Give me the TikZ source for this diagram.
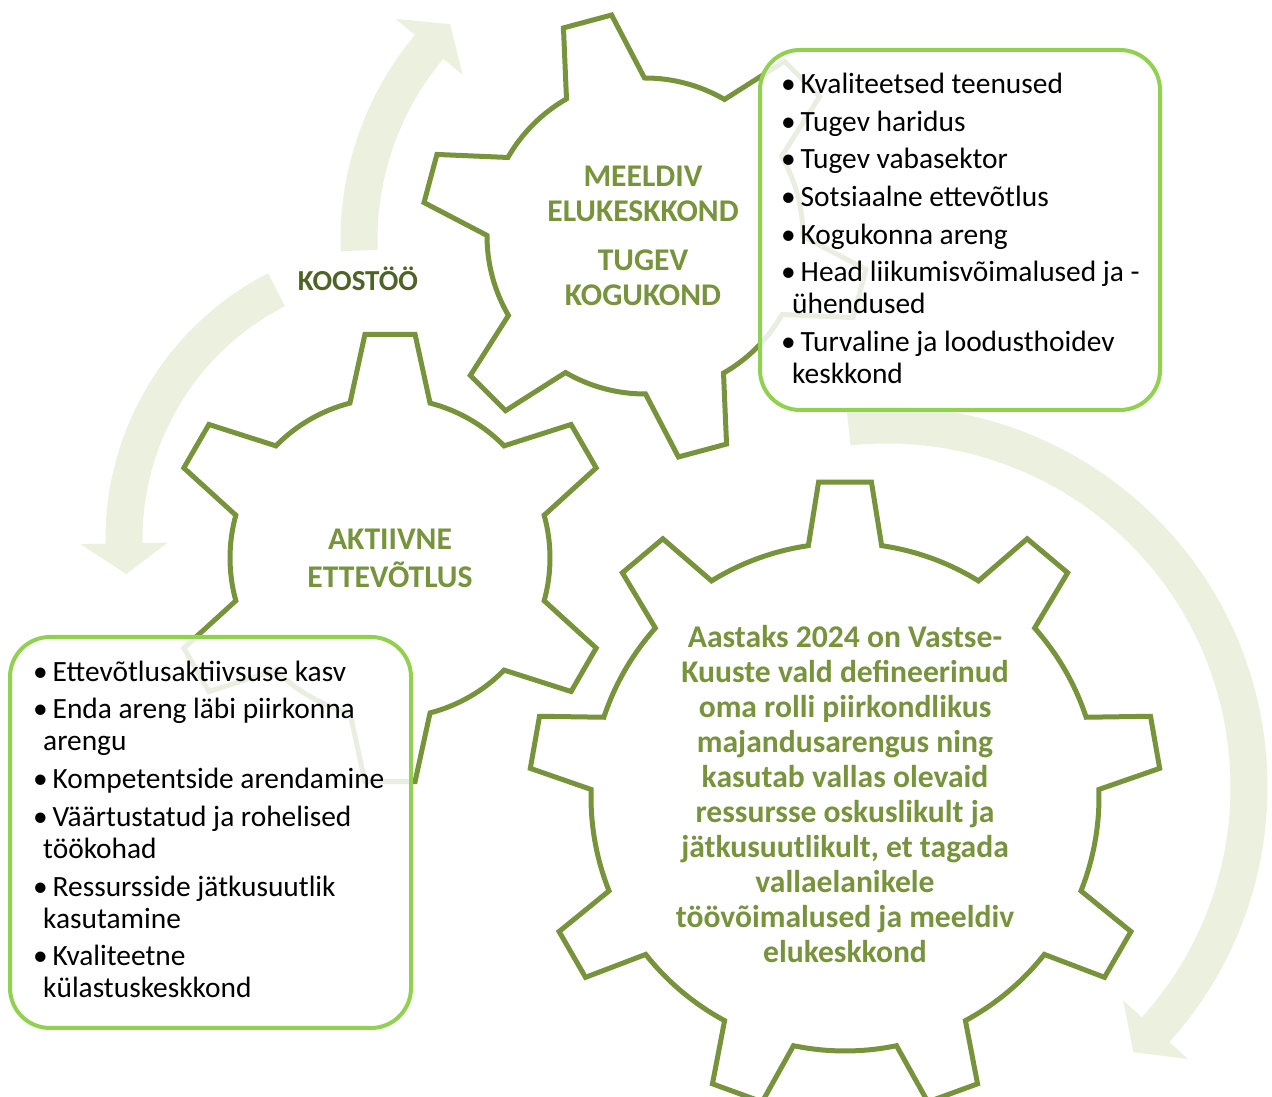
\documentclass[tikz,border=0pt]{standalone}
\usepackage{fontspec}
\setmainfont{Carlito}
\definecolor{gearc}{HTML}{77933C}
\definecolor{darkol}{HTML}{4F6228}
\definecolor{arrowc}{HTML}{EBF1DE}
\definecolor{boxc}{HTML}{92D050}
% cx, cy, rin, rout, N, phase, base half angle, tip half angle
\newcommand{\gearshape}[8]{%
  \filldraw[gearstroke] ({#1+#3*cos(#6-#7)},{#2+#3*sin(#6-#7)})
  \foreach \k in {1,...,#5}{
    -- ({#1+#4*cos(#6+(\k-1)*360/#5-#8)},{#2+#4*sin(#6+(\k-1)*360/#5-#8)})
    -- ({#1+#4*cos(#6+(\k-1)*360/#5+#8)},{#2+#4*sin(#6+(\k-1)*360/#5+#8)})
    -- ({#1+#3*cos(#6+(\k-1)*360/#5+#7)},{#2+#3*sin(#6+(\k-1)*360/#5+#7)})
    arc[start angle={#6+(\k-1)*360/#5+#7}, end angle={#6+\k*360/#5-#7}, radius=#3]
  } -- cycle;}
% cx, cy, R, start angle, head base angle, tip angle
\newcommand{\carrow}[6]{%
  \fill[arrowc] ({#1+(#3+18.5)*cos(#4)},{#2+(#3+18.5)*sin(#4)})
    arc[start angle=#4, end angle=#5, radius={#3+18.5}]
    -- ({#1+(#3+43.75)*cos(#5)},{#2+(#3+43.75)*sin(#5)})
    -- ({#1+#3*cos(#6)},{#2+#3*sin(#6)})
    -- ({#1+(#3-43.75)*cos(#5)},{#2+(#3-43.75)*sin(#5)})
    -- ({#1+(#3-18.5)*cos(#5)},{#2+(#3-18.5)*sin(#5)})
    arc[start angle=#5, end angle=#4, radius={#3-18.5}]
    -- cycle;}
\newcommand{\listfont}{\fontsize{29.4}{32}\selectfont}
\newcommand{\gearfont}{\fontsize{31.6}{35}\selectfont\bfseries}
\newcommand{\bul}{\makebox[19.5pt][l]{•}}
\begin{document}
\begin{tikzpicture}[x=1pt,y=1pt,
  gearstroke/.style={draw=gearc, line width=5pt, fill=white, line join=miter},
  listbox/.style={draw=boxc, line width=4pt, rounded corners=40pt, fill=white, fill opacity=0.85, inner sep=0pt},
  li/.style={anchor=base west, inner sep=0pt, font=\listfont, text=black},
  geartext/.style={align=center, inner sep=0pt, font=\gearfont, text=gearc}]
\useasboundingbox (0,0) rectangle (1272,1097);
\clip (0,0) rectangle (1272,1097);
% curved arrows
\carrow{660}{857}{301}{182}{140.1}{134.2}
\carrow{404}{558}{280}{117.1}{180.9}{187.2}
\carrow{887}{310}{362}{96.1}{-42.1}{-47.1}
% gears
\gearshape{645}{861}{158}{223.5}{6}{45}{14.8}{6.4}
\gearshape{390}{539}{160}{225}{6}{30}{14.5}{6.4}
\gearshape{845}{300}{254}{316}{9}{90}{8.3}{4.8}
% boxes
\node[listbox, minimum width=400pt, minimum height=360pt] (box1) at (960,867) {};
\node[listbox, minimum width=401pt, minimum height=391pt] (box2) at (210.5,264.5) {};
% gear texts
\node[geartext] (g1t) at (643,858) {\strut MEELDIV\\ELUKESKKOND\\[14pt]TUGEV\\KOGUKOND\strut};
\node[geartext] (g2t) at (390,535.5) {\strut AKTIIVNE\\ETTEVÕTLUS\strut};
\node[geartext] (g3t) at (845,298.5) {\strut Aastaks 2024 on Vastse-\\Kuuste vald defineerinud\\oma rolli piirkondlikus\\majandusarengus ning\\kasutab vallas olevaid\\ressursse oskuslikult ja\\jätkusuutlikult, et tagada\\vallaelanikele\\töövõimalused ja meeldiv\\elukeskkond\strut};
\node[inner sep=0pt, font=\fontsize{29}{33}\selectfont\bfseries, text=darkol] (koos) at (358,818) {KOOSTÖÖ};
% list 1
\node[li] (b1l1) at (781,1003.5) {\bul Kvaliteetsed teenused};
\node[li] (b1l2) at (781,965.5) {\bul Tugev haridus};
\node[li] (b1l3) at (781,928.5) {\bul Tugev vabasektor};
\node[li] (b1l4) at (781,890.5) {\bul Sotsiaalne ettevõtlus};
\node[li] (b1l5) at (781,852.5) {\bul Kogukonna areng};
\node[li] (b1l6) at (781,815.5) {\bul Head liikumisvõimalused ja -};
\node[li] (b1l7) at (792,783.5) {ühendused};
\node[li] (b1l8) at (781,745.5) {\bul Turvaline ja loodusthoidev};
\node[li] (b1l9) at (792,713.5) {keskkond};
% list 2
\node[li] (b2l1) at (33,415.3) {\bul Ettevõtlusaktiivsuse kasv};
\node[li] (b2l2) at (33,378.3) {\bul Enda areng läbi piirkonna};
\node[li] (b2l3) at (43,346.3) {arengu};
\node[li] (b2l4) at (33,308.3) {\bul Kompetentside arendamine};
\node[li] (b2l5) at (33,270.3) {\bul Väärtustatud ja rohelised};
\node[li] (b2l6) at (43,238.3) {töökohad};
\node[li] (b2l7) at (33,200.3) {\bul Ressursside jätkusuutlik};
\node[li] (b2l8) at (43,168.3) {kasutamine};
\node[li] (b2l9) at (33,131.3) {\bul Kvaliteetne};
\node[li] (b2l10) at (43,99.3) {külastuskeskkond};
\end{tikzpicture}
\end{document}
